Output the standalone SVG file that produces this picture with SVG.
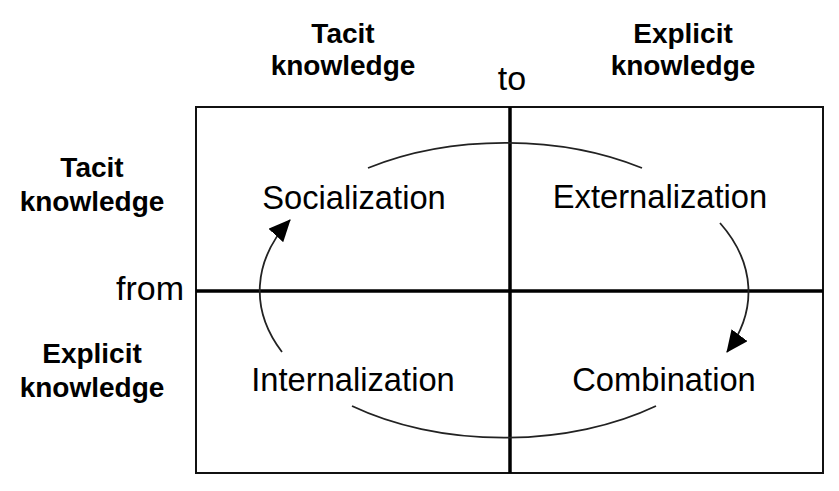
<svg xmlns="http://www.w3.org/2000/svg" width="839" height="491" viewBox="0 0 839 491">
<style>
.bg{fill:#fff}
.frame{fill:none;stroke:#111;stroke-width:2}
.axis{fill:none;stroke:#000;stroke-width:3.5}
.arc{fill:none;stroke:#222;stroke-width:1.8}
.mode{font-family:"Liberation Sans",Arial,sans-serif;font-size:32.7px;fill:#000;text-anchor:middle}
.head{font-family:"Liberation Sans",Arial,sans-serif;font-size:28px;font-weight:bold;fill:#000;text-anchor:middle}
.dir{font-family:"Liberation Sans",Arial,sans-serif;font-size:34px;fill:#000}
</style>
<defs>
<marker id="arrow" markerUnits="userSpaceOnUse" viewBox="0 0 22 20" markerWidth="22" markerHeight="20" refX="21" refY="10" orient="auto">
<path d="M0,0 L22,10 L0,20 z" fill="#000"/>
</marker>
</defs>
<rect class="bg" x="0" y="0" width="839" height="491"/>
<g id="grid">
<rect class="frame" x="196" y="107" width="627" height="366"/>
<line class="axis" x1="510" y1="107" x2="510" y2="473"/>
<line class="axis" x1="196" y1="291" x2="823" y2="291"/>
</g>
<g id="headers">
<text class="head" x="343" y="43">Tacit</text>
<text class="head" x="343" y="75">knowledge</text>
<text class="head" x="683" y="43">Explicit</text>
<text class="head" x="683" y="75">knowledge</text>
<text class="head" x="92" y="177">Tacit</text>
<text class="head" x="92" y="211">knowledge</text>
<text class="head" x="92" y="363">Explicit</text>
<text class="head" x="92" y="397">knowledge</text>
<text class="dir" x="512" y="90" text-anchor="middle">to</text>
<text class="dir" x="184" y="300" text-anchor="end">from</text>
</g>
<g id="socialization"><text class="mode" x="354" y="209">Socialization</text></g>
<g id="externalization"><text class="mode" x="660" y="208">Externalization</text></g>
<g id="combination"><text class="mode" x="664" y="391">Combination</text></g>
<g id="internalization"><text class="mode" x="353" y="391">Internalization</text></g>
<g id="connectors">
<path class="arc" d="M368,168 A245,147 0 0 1 642,168"/>
<path class="arc" d="M720,223 A245,147 0 0 1 727,352" marker-end="url(#arrow)"/>
<path class="arc" d="M656,406 A245,147 0 0 1 352,406"/>
<path class="arc" d="M282,352 A245,147 0 0 1 290,220" marker-end="url(#arrow)"/>
</g>
</svg>
